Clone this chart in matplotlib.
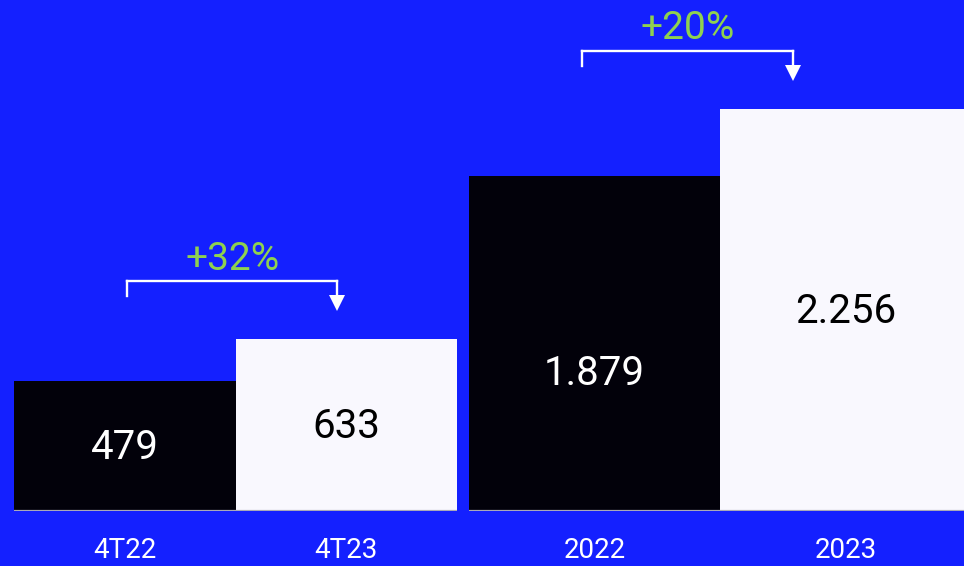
import matplotlib
matplotlib.use("Agg")
import matplotlib.pyplot as plt
import matplotlib.lines as mlines
from matplotlib.transforms import ScaledTranslation

# Quarterly and annual figures, each pair on its own scale
quarter_labels = ["4T22", "4T23"]
quarter_values = [479, 633]
quarter_text = ["479", "633"]
quarter_growth = "+32%"

year_labels = ["2022", "2023"]
year_values = [1879, 2256]
year_text = ["1.879", "2.256"]
year_growth = "+20%"

BLUE = "#1420FF"
DARK = "#02010A"
LIGHT = "#F9F8FE"
GREEN = "#8FD14F"
BASE = "#A9A9B8"
FONT = "Roboto"

fig = plt.figure(figsize=(9.64, 5.66), dpi=100)
fig.patch.set_facecolor(BLUE)
W, H = 964, 566


def offset(ax, dy_px):
    """Data transform shifted upward by dy_px pixels."""
    return ax.transData + ScaledTranslation(0, dy_px / fig.dpi, fig.dpi_scale_trans)


def panel(rect, labels, values, texts, growth, ymax, bracket, label_pos):
    ax = fig.add_axes(rect)
    ax.patch.set_alpha(0)
    ax.bar([0, 1], values, width=1.0, color=[DARK, LIGHT], zorder=2)
    ax.set_xlim(-0.5, 1.5)
    ax.set_ylim(0, ymax)
    ax.axhline(0, color=BASE, lw=1.6, zorder=3)
    for s in ax.spines.values():
        s.set_visible(False)
    ax.set_yticks([])
    ax.set_xticks([0, 1])
    ax.set_xticklabels(labels, fontsize=20, color="white", family=FONT)
    ax.tick_params(axis="x", length=0, pad=19)

    for i, (v, t) in enumerate(zip(values, texts)):
        ax.text(i, v * label_pos[i], t, ha="center", va="center",
                fontsize=29, family=FONT,
                color="white" if i == 0 else "black", zorder=4)

    # growth bracket, placed a fixed pixel distance above the taller bar
    top = max(values)
    x0, x1 = bracket
    segs = [((x0, 43), (x0, 58)), ((x0, 58), (x1, 58)), ((x1, 58), (x1, 40))]
    for (xa, dya), (xb, dyb) in segs:
        pa = offset(ax, dya).transform((xa, top))
        pb = offset(ax, dyb).transform((xb, top))
        fig.add_artist(mlines.Line2D([pa[0], pb[0]], [pa[1], pb[1]], color="white",
                                     lw=1.7, transform=None,
                                     solid_capstyle="projecting"))
    tip = offset(ax, 36).transform((x1, top))
    fig.add_artist(mlines.Line2D([tip[0]], [tip[1]], marker="v", markersize=11,
                                 color="white", markeredgewidth=0, transform=None))
    ax.text(x0 + (x1 - x0) / 2, top, growth, transform=offset(ax, 80),
            ha="center", va="center", fontsize=28, color=GREEN, family=FONT,
            clip_on=False)
    return ax


base_frac = 55 / H
h_frac = 511 / H
panel([14 / W, base_frac, 443 / W, h_frac], quarter_labels, quarter_values,
      quarter_text, quarter_growth, 1883, (0.01, 0.96), [0.49, 0.49])
panel([469 / W, base_frac, 502 / W, h_frac], year_labels, year_values,
      year_text, year_growth, 2866, (-0.05, 0.79), [0.41, 0.495])

fig.savefig("out.png", dpi=100, facecolor=BLUE)
